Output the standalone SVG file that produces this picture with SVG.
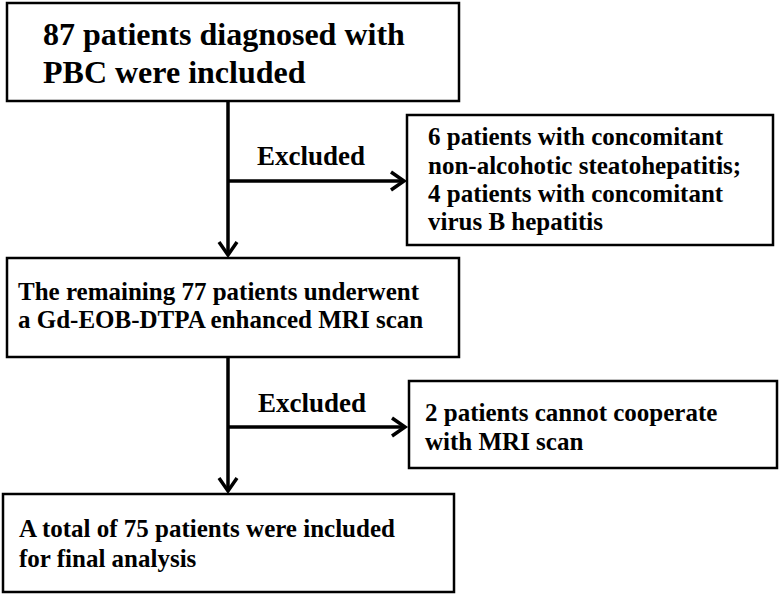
<svg xmlns="http://www.w3.org/2000/svg" width="780" height="595" viewBox="0 0 780 595">
<style>
.box{fill:#fff;stroke:#000;stroke-width:2.5}
.ln{fill:none;stroke:#000;stroke-width:3.5}
.hd{fill:none;stroke:#000;stroke-width:3.5;stroke-linejoin:miter}
</style>
<rect width="780" height="595" fill="#fff"/>
<g id="connectors">
<line class="ln" x1="228" y1="101" x2="228" y2="255"/>
<polyline class="hd" points="219,242 228,255 237,242"/>
<line class="ln" x1="228" y1="181" x2="404" y2="181"/>
<polyline class="hd" points="391,172 404,181 391,190"/>
<line class="ln" x1="228" y1="357" x2="228" y2="491"/>
<polyline class="hd" points="219,478 228,491 237,478"/>
<line class="ln" x1="228" y1="427" x2="405" y2="427"/>
<polyline class="hd" points="392,418 405,427 392,436"/>
<text x="257" y="165" font-family="Liberation Serif" font-weight="bold" font-size="27">Excluded</text>
<text x="258" y="412" font-family="Liberation Serif" font-weight="bold" font-size="27">Excluded</text>
</g>
<g id="n1">
<rect class="box" x="7" y="3" width="452" height="98"/>
<text x="43" y="45" font-family="Liberation Serif" font-weight="bold" font-size="32">87 patients diagnosed with</text>
<text x="43" y="83" font-family="Liberation Serif" font-weight="bold" font-size="32">PBC were included</text>
</g>
<g id="n2">
<rect class="box" x="407" y="115" width="366" height="130"/>
<text x="428" y="145" font-family="Liberation Serif" font-weight="bold" font-size="25">6 patients with concomitant</text>
<text x="428" y="174" font-family="Liberation Serif" font-weight="bold" font-size="25">non-alcohotic steatohepatitis;</text>
<text x="428" y="202" font-family="Liberation Serif" font-weight="bold" font-size="25">4 patients with concomitant</text>
<text x="428" y="230" font-family="Liberation Serif" font-weight="bold" font-size="25">virus B hepatitis</text>
</g>
<g id="n3">
<rect class="box" x="7" y="258" width="452" height="99"/>
<text x="18" y="300" font-family="Liberation Serif" font-weight="bold" font-size="25">The remaining 77 patients underwent</text>
<text x="18" y="328" font-family="Liberation Serif" font-weight="bold" font-size="25">a Gd-EOB-DTPA enhanced MRI scan</text>
</g>
<g id="n4">
<rect class="box" x="409" y="381" width="368" height="87"/>
<text x="425" y="421" font-family="Liberation Serif" font-weight="bold" font-size="25">2 patients cannot cooperate</text>
<text x="425" y="450" font-family="Liberation Serif" font-weight="bold" font-size="25">with MRI scan</text>
</g>
<g id="n5">
<rect class="box" x="3" y="494" width="451" height="98"/>
<text x="19" y="537" font-family="Liberation Serif" font-weight="bold" font-size="25">A total of 75 patients were included</text>
<text x="19" y="567" font-family="Liberation Serif" font-weight="bold" font-size="25">for final analysis</text>
</g>
</svg>
